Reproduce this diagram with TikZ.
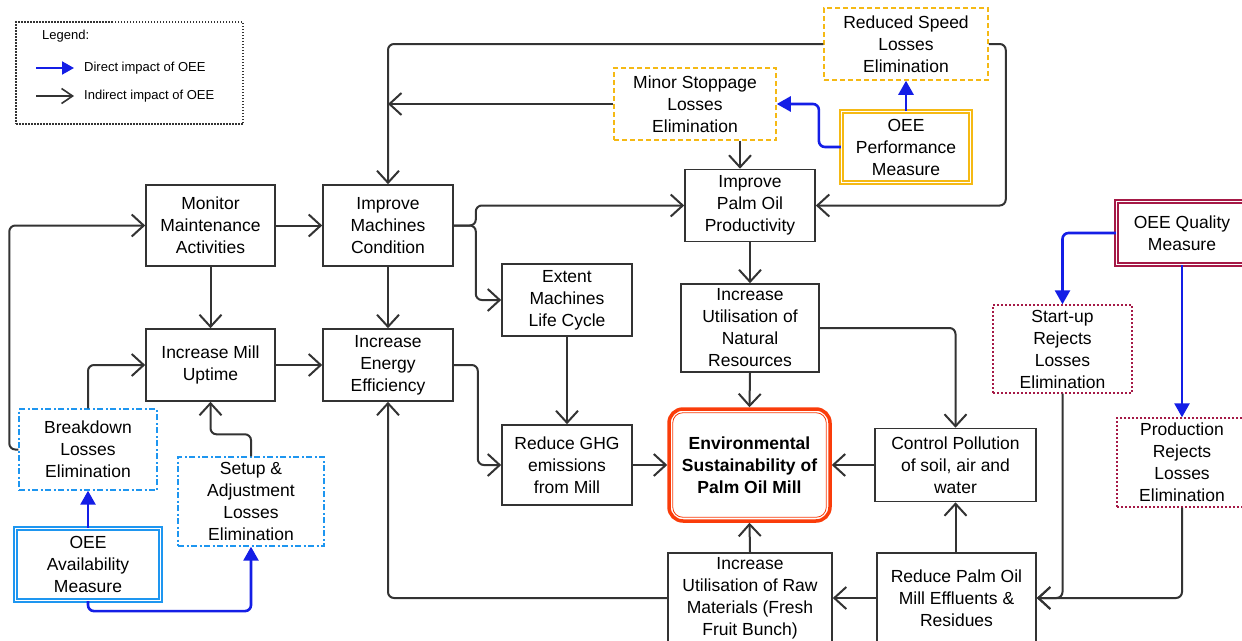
\documentclass[tikz,border=0pt]{standalone}
\usepackage{fontspec}
\setmainfont{Liberation Sans}
\usetikzlibrary{arrows.meta}
\definecolor{lc}{RGB}{51,51,51}
\definecolor{dblue}{RGB}{20,30,230}
\definecolor{lblue}{RGB}{30,150,240}
\definecolor{goldc}{RGB}{245,185,20}
\definecolor{maroonc}{RGB}{165,25,70}
\definecolor{envred}{RGB}{250,60,10}
\tikzset{
  every node/.style={font=\fontsize{17.5pt}{22pt}\selectfont, align=center, inner sep=0pt, text=black},
  box/.style={draw=lc, line width=1.6pt},
  goldbox/.style={draw=goldc, line width=1.5pt, dash pattern=on 5pt off 3pt},
  golddbl/.style={draw=goldc, double=white, double distance=1.8pt, line width=1.2pt},
  marbox/.style={draw=maroonc, line width=1.4pt, dash pattern=on 2pt off 2pt},
  mardbl/.style={draw=maroonc, double=white, double distance=1.8pt, line width=1.2pt},
  bluebox/.style={draw=lblue, line width=1.4pt, dash pattern=on 6pt off 2.5pt on 2pt off 2.5pt},
  bluedbl/.style={draw=lblue, double=white, double distance=1.8pt, line width=1.2pt},
  ind/.style={draw=lc, line width=2pt, rounded corners=6pt, -{Straight Barb[length=12pt, width=22pt, line width=2pt]}},
  dir/.style={draw=dblue, line width=2.6pt, rounded corners=6pt, -{Triangle[length=14pt, width=15pt]}},
  legtext/.style={font=\fontsize{13pt}{15pt}\selectfont, anchor=west}
}
\begin{document}
\begin{tikzpicture}[x=1pt, y=-1pt]
\useasboundingbox (0,0) rectangle (1242,640);
\clip (0,0) rectangle (1242,640);
\fill[white] (0,0) rectangle (1242,640);

% legend
\node[draw=lc, line width=1.2pt, dash pattern=on 1.5pt off 1.5pt, minimum width=227pt, minimum height=102pt] (leg) at (129.5,73) {};
\node[legtext] (legt) at (42,36) {Legend:};
\coordinate (la1) at (36,68);
\coordinate (la2) at (74,68);
\coordinate (lb1) at (36,96);
\coordinate (lb2) at (74,96);
\draw[draw=dblue, line width=2pt, -{Triangle[length=12pt, width=13pt]}] (la1) -- (la2);
\draw[draw=lc, line width=1.6pt, -{Straight Barb[length=11pt, width=15pt, line width=1.6pt]}] (lb1) -- (lb2);
\node[legtext] (ld) at (84,68) {Direct impact of OEE};
\node[legtext] (li) at (84,96) {Indirect impact of OEE};

% nodes
\node[box, minimum width=129pt, minimum height=81pt] (mon) at (210.5,225.5) {Monitor\\Maintenance\\Activities};
\node[box, minimum width=130pt, minimum height=81pt] (imc) at (388,225.5) {Improve\\Machines\\Condition};
\node[box, minimum width=129pt, minimum height=72pt] (mut) at (210.5,365) {Increase Mill\\Uptime};
\node[box, minimum width=130pt, minimum height=72pt] (iee) at (388,365) {Increase\\Energy\\Efficiency};
\node[box, minimum width=130pt, minimum height=72pt] (emc) at (567,300) {Extent\\Machines\\Life Cycle};
\node[box, minimum width=130pt, minimum height=80pt] (ghg) at (567,465) {Reduce GHG\\emissions\\from Mill};
\node[box, minimum width=130pt, minimum height=72pt] (ipo) at (750,205.5) {Improve\\Palm Oil\\Productivity};
\node[goldbox, minimum width=162pt, minimum height=72pt] (msl) at (695,104) {Minor Stoppage\\Losses\\Elimination};
\node[goldbox, minimum width=164pt, minimum height=72pt] (rsl) at (906,44) {Reduced Speed\\Losses\\Elimination};
\node[golddbl, minimum width=129pt, minimum height=71pt] (perf) at (906,147) {OEE\\Performance\\Measure};
\node[box, minimum width=138pt, minimum height=88pt] (unr) at (750,328) {Increase\\Utilisation of\\Natural\\Resources};
\node[draw=envred, line width=3.5pt, rounded corners=14pt, minimum width=161pt, minimum height=112pt, font=\fontsize{17.5pt}{22pt}\selectfont\bfseries] (env) at (749.5,465) {Environmental\\Sustainability of\\Palm Oil Mill};
\draw[envred, line width=0.8pt, rounded corners=10pt] ([shift={(5.5,5.5)}]env.north west) rectangle ([shift={(-5.5,-5.5)}]env.south east);
\node[box, minimum width=161pt, minimum height=73pt] (cp) at (955.5,465) {Control Pollution\\of soil, air and\\water};
\node[box, minimum width=159pt, minimum height=90pt] (pome) at (956.5,598) {Reduce Palm Oil\\Mill Effluents \&\\Residues};
\node[box, minimum width=164pt, minimum height=90pt] (raw) at (750,598) {Increase\\Utilisation of Raw\\Materials (Fresh\\Fruit Bunch)};
\node[mardbl, minimum width=131pt, minimum height=63pt] (qual) at (1182,233) {OEE Quality\\Measure};
\node[marbox, minimum width=139pt, minimum height=88pt] (sup) at (1062.5,349) {Start-up\\Rejects\\Losses\\Elimination};
\node[marbox, minimum width=130pt, minimum height=89pt] (prj) at (1182,462.5) {Production\\Rejects\\Losses\\Elimination};
\node[bluebox, minimum width=138pt, minimum height=81pt] (brk) at (88,449.5) {Breakdown\\Losses\\Elimination};
\node[bluebox, minimum width=146pt, minimum height=89pt] (set) at (251,501.5) {Setup \&\\Adjustment\\Losses\\Elimination};
\node[bluedbl, minimum width=145pt, minimum height=72pt] (av) at (88,564.5) {OEE\\Availability\\Measure};

% connectors
\draw[ind] (rsl.west) -| (imc.north);
\draw[ind] (rsl.east) -- ++(17,0) |- (ipo.east);
\coordinate (m3) at (imc.north |- msl.west);
\draw[ind] (msl.west) -- (m3);
\draw[ind] ([xshift=45pt]msl.south) -- ([xshift=-10pt]ipo.north);
\draw[dir] (perf.west) -- ++(-22,0) |- (msl.east);
\draw[dir] (perf.north) -- (rsl.south);
\draw[ind] (imc.east) -- ++(22,0) |- (ipo.west);
\draw[ind] (imc.east) -- ++(22,0) |- (emc.west);
\draw[ind] (mon.east) -- (imc.west);
\draw[ind] (mon.south) -- (mut.north);
\draw[ind] (imc.south) -- (iee.north);
\draw[ind] (mut.east) -- (iee.west);
\draw[ind] (iee.east) -- ++(24,0) |- (ghg.west);
\draw[ind] (emc.south) -- (ghg.north);
\draw[ind] (ghg.east) -- (env.west);
\draw[ind] (ipo.south) -- (unr.north);
\draw[ind] (unr.south) -- (env.north);
\draw[ind] (unr.east) -| (cp.north);
\draw[ind] (cp.west) -- (env.east);
\draw[ind] (cp.south |- pome.north) -- (cp.south);
\draw[ind] (pome.west) -- (raw.east);
\draw[ind] (raw.north) -- (env.south);
\draw[ind] (raw.west) -| (iee.south);
\draw[ind] (sup.south) |- (pome.east);
\draw[ind] (prj.south) |- (pome.east);
\draw[dir] (qual.west) -| (sup.north);
\draw[dir] (qual.south) -- (prj.north);
\draw[ind] (brk.west) -- ++(-9,0) |- (mon.west);
\draw[ind] (brk.north) |- (mut.west);
\draw[ind] (set.north) -- ++(0,-22) -| (mut.south);
\draw[dir] (av.north) -- (brk.south);
\draw[dir] (av.south) -- ++(0,10) -| (set.south);
\end{tikzpicture}
\end{document}
